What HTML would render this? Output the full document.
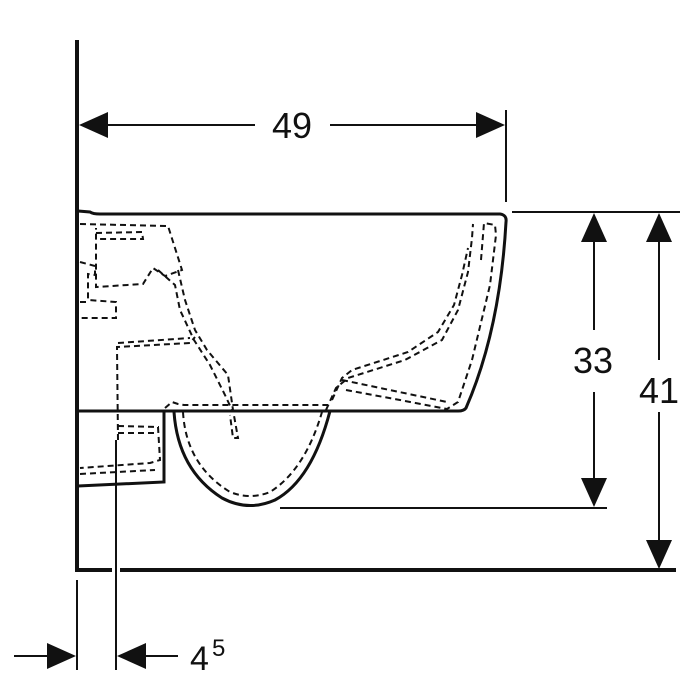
<!DOCTYPE html>
<html><head><style>html,body{margin:0;padding:0;background:#fff}svg{display:block}</style></head>
<body>
<svg width="700" height="700" viewBox="0 0 700 700" xmlns="http://www.w3.org/2000/svg" font-family="Liberation Sans, sans-serif">
<g stroke="#111" fill="none">
<!-- wall & floor -->
<line x1="77" y1="40" x2="77" y2="572" stroke-width="4"/>
<line x1="75" y1="570" x2="112" y2="570" stroke-width="4"/>
<line x1="120" y1="570" x2="676" y2="570" stroke-width="4"/>
<!-- body -->
<path d="M78 211 L90 212 Q93 214 100 214 L500 214 Q507 215 506 222 Q500 330 466 408 Q464 411 458 411 L78 411" stroke-width="3"/>
<path d="M164 412 L164 482 L78 486" stroke-width="3"/>
<path d="M174 412 Q178 470 222 498 Q248 512 275 500 Q312 480 330 411" stroke-width="3"/>
<!-- dashed -->
<g stroke-width="2" stroke-dasharray="6,4">
<path d="M80 224 L168 226 L182 270 L165 276 L153 268 L143 284 L96 287 L96 228"/>
<path d="M96 233 L142 232 L143 239 L97 239"/>
<path d="M178 270 L185 300 L195 330 L207 350 L228 375 L233 410 L238 438 L233 438 L230 415"/>
<path d="M158 270 L175 285 L180 310 L194 340 L210 365 L225 395 L232 410"/>
<path d="M118 440 L117 347 L190 343 L195 337"/>
<path d="M118 343 L190 338"/>
<path d="M165 408 L172 402 L178 404 L184 405 L328 405"/>
<path d="M80 262 L95 266 L95 275 L88 274 L88 300 L116 302 L116 318 L80 318"/>
<path d="M80 302 L88 302"/>
<path d="M118 426 L158 427 L160 460 L150 463 L80 468"/>
<path d="M80 474 L155 470"/>
<path d="M118 433 L155 433"/>
<path d="M183 412 Q186 465 230 492 Q250 500 270 492 Q305 470 322 412"/>
<path d="M326 410 L336 388 L348 378 L405 360 L442 340 L458 310 L468 272 L472 238 L473 224"/>
<path d="M332 400 L342 378 L352 370 L408 352 L438 332 L454 305 L462 275 L468 248"/>
<path d="M346 390 L400 400 L447 409 L458 402 L472 360 L490 285 L496 235 L495 225 L484 223 L481 260"/>
<path d="M342 380 L447 402"/>
</g>
<!-- dimension lines -->
<g stroke-width="2">
<line x1="506" y1="110" x2="506" y2="202"/>
<line x1="100" y1="125" x2="255" y2="125"/>
<line x1="330" y1="125" x2="480" y2="125"/>
<line x1="512" y1="212" x2="680" y2="212"/>
<line x1="280" y1="508" x2="607" y2="508"/>
<line x1="594" y1="240" x2="594" y2="330"/>
<line x1="594" y1="392" x2="594" y2="480"/>
<line x1="659" y1="240" x2="659" y2="360"/>
<line x1="659" y1="412" x2="659" y2="545"/>
<line x1="77" y1="580" x2="77" y2="670"/>
<line x1="116" y1="440" x2="116" y2="670"/>
<line x1="14" y1="656" x2="48" y2="656"/>
<line x1="145" y1="656" x2="178" y2="656"/>
</g>
</g>
<g fill="#111">
<polygon points="79,125 108,112 108,138"/>
<polygon points="505,125 476,112 476,138"/>
<polygon points="594,213 581,242 607,242"/>
<polygon points="594,507 581,478 607,478"/>
<polygon points="659,213 646,242 672,242"/>
<polygon points="659,569 646,540 672,540"/>
<polygon points="76,656 47,643 47,669"/>
<polygon points="117,656 146,643 146,669"/>
</g>
<g fill="#111" font-size="36">
<text x="292" y="138" text-anchor="middle">49</text>
<text x="593" y="373" text-anchor="middle">33</text>
<text x="659" y="403" text-anchor="middle">41</text>
<text x="190" y="670" font-size="34">4</text>
<text x="212" y="656" font-size="24">5</text>
</g>
</svg>
</body></html>
